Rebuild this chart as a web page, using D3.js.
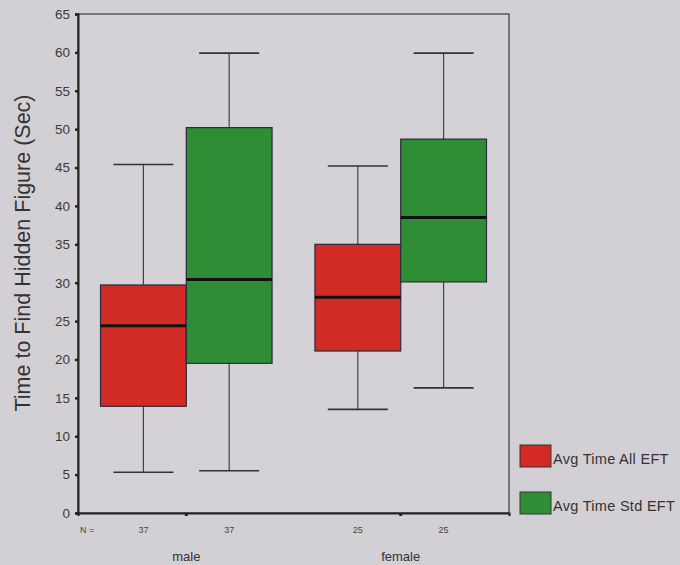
<!DOCTYPE html>
<html>
<head>
<meta charset="utf-8">
<script src="https://cdn.jsdelivr.net/npm/d3@7"></script>
<style>
  html, body { margin: 0; padding: 0; background: #d2d0d4; }
  svg { display: block; font-family: Arial, "Liberation Sans", sans-serif; }
</style>
</head>
<body>
<svg id="chart" width="680" height="565"></svg>
<script>
// Groups along the x axis and their sample sizes
const groups = ["male", "female"];
const groupN = [37, 25];

// The two measures drawn side by side within each group
const seriesNames = ["Avg Time All EFT", "Avg Time Std EFT"];
const seriesColors = ["#d22b26", "#2f8d35"];

// Five-number summaries per series: [male, female]
const allLow    = [5.3, 13.5];
const allQ1     = [13.9, 21.1];
const allMedian = [24.4, 28.1];
const allQ3     = [29.7, 35.0];
const allHigh   = [45.4, 45.2];

const stdLow    = [5.5, 16.3];
const stdQ1     = [19.5, 30.1];
const stdMedian = [30.4, 38.5];
const stdQ3     = [50.2, 48.7];
const stdHigh   = [59.9, 59.9];

const yTicks = [0, 5, 10, 15, 20, 25, 30, 35, 40, 45, 50, 55, 60, 65];

const boxes = [];
groups.forEach((g, i) => {
  boxes.push({ group: g, series: 0, low: allLow[i], q1: allQ1[i], med: allMedian[i], q3: allQ3[i], high: allHigh[i], n: groupN[i] });
  boxes.push({ group: g, series: 1, low: stdLow[i], q1: stdQ1[i], med: stdMedian[i], q3: stdQ3[i], high: stdHigh[i], n: groupN[i] });
});

const svg = d3.select("#chart");
const plot = { left: 78, right: 509, top: 14, bottom: 513 };

const y = d3.scaleLinear().domain([0, 65]).range([plot.bottom, plot.top]);
const x = d3.scaleBand().domain(groups).range([plot.left, plot.right])
  .paddingInner(0.2).paddingOuter(0.105);
const inner = d3.scaleBand().domain([0, 1]).range([0, x.bandwidth()]);

// Plot frame
svg.append("rect")
  .attr("x", plot.left).attr("y", plot.top)
  .attr("width", plot.right - plot.left).attr("height", plot.bottom - plot.top)
  .attr("fill", "#d4d2d6").attr("stroke", "#3a3a3a").attr("stroke-width", 1.2);

// Y axis
const yAxis = svg.append("g")
  .attr("transform", `translate(${plot.left},0)`)
  .call(d3.axisLeft(y).tickValues(yTicks).tickSize(3).tickPadding(5));
yAxis.select(".domain").attr("stroke", "#222").attr("stroke-width", 2);
yAxis.selectAll(".tick line").attr("stroke", "#222").attr("stroke-width", 2.5);
yAxis.selectAll(".tick text").attr("fill", "#3a3a3a").attr("font-size", 13.5)
  .attr("font-family", "Arial, 'Liberation Sans', sans-serif");

// X axis: group ticks at centre of each pair
const xAxis = svg.append("g")
  .attr("transform", `translate(0,${plot.bottom})`)
  .call(d3.axisBottom(x).tickSize(3).tickFormat(""));
xAxis.select(".domain").attr("stroke", "#222").attr("stroke-width", 2);
xAxis.selectAll(".tick line").attr("stroke", "#222").attr("stroke-width", 3);

// Group labels
svg.append("g").selectAll("text").data(groups).join("text")
  .attr("x", d => x(d) + x.bandwidth() / 2)
  .attr("y", 561)
  .attr("text-anchor", "middle")
  .attr("font-size", 13)
  .attr("fill", "#333")
  .text(d => d);

// N counts
svg.append("text")
  .attr("x", 80).attr("y", 533)
  .attr("font-size", 9).attr("fill", "#444")
  .text("N =");
svg.append("g").selectAll("text").data(boxes).join("text")
  .attr("x", d => x(d.group) + inner(d.series) + inner.bandwidth() / 2)
  .attr("y", 533)
  .attr("text-anchor", "middle")
  .attr("font-size", 9)
  .attr("fill", "#444")
  .text(d => d.n);

// Y axis title
svg.append("text")
  .attr("transform", `translate(30,253) rotate(-90)`)
  .attr("text-anchor", "middle")
  .attr("font-size", 21.5)
  .attr("fill", "#333")
  .text("Time to Find Hidden Figure (Sec)");

// Box plots
const capW = inner.bandwidth() * 0.7;
const bg = svg.append("g").selectAll("g").data(boxes).join("g")
  .attr("transform", d => `translate(${x(d.group) + inner(d.series)},0)`);

bg.append("line")
  .attr("x1", inner.bandwidth() / 2).attr("x2", inner.bandwidth() / 2)
  .attr("y1", d => y(d.high)).attr("y2", d => y(d.low))
  .attr("stroke", "#444").attr("stroke-width", 1.2);
bg.append("line")
  .attr("x1", (inner.bandwidth() - capW) / 2).attr("x2", (inner.bandwidth() + capW) / 2)
  .attr("y1", d => y(d.high)).attr("y2", d => y(d.high))
  .attr("stroke", "#333").attr("stroke-width", 1.6);
bg.append("line")
  .attr("x1", (inner.bandwidth() - capW) / 2).attr("x2", (inner.bandwidth() + capW) / 2)
  .attr("y1", d => y(d.low)).attr("y2", d => y(d.low))
  .attr("stroke", "#333").attr("stroke-width", 1.6);
bg.append("rect")
  .attr("x", 0).attr("width", inner.bandwidth())
  .attr("y", d => y(d.q3)).attr("height", d => y(d.q1) - y(d.q3))
  .attr("fill", d => seriesColors[d.series])
  .attr("stroke", "#2a2a3a").attr("stroke-width", 1.2);
bg.append("line")
  .attr("x1", 0).attr("x2", inner.bandwidth())
  .attr("y1", d => y(d.med)).attr("y2", d => y(d.med))
  .attr("stroke", "#111").attr("stroke-width", 3);

// Legend
const lg = svg.append("g").selectAll("g").data(seriesNames).join("g")
  .attr("transform", (d, i) => `translate(520,${445 + i * 47})`);
lg.append("rect")
  .attr("width", 31).attr("height", 22)
  .attr("fill", (d, i) => seriesColors[i])
  .attr("stroke", "#333").attr("stroke-width", 1);
lg.append("text")
  .attr("x", 33).attr("y", 19)
  .attr("font-size", 14.5)
  .attr("letter-spacing", 0.3)
  .attr("fill", "#333")
  .text(d => d);
</script>
</body>
</html>
